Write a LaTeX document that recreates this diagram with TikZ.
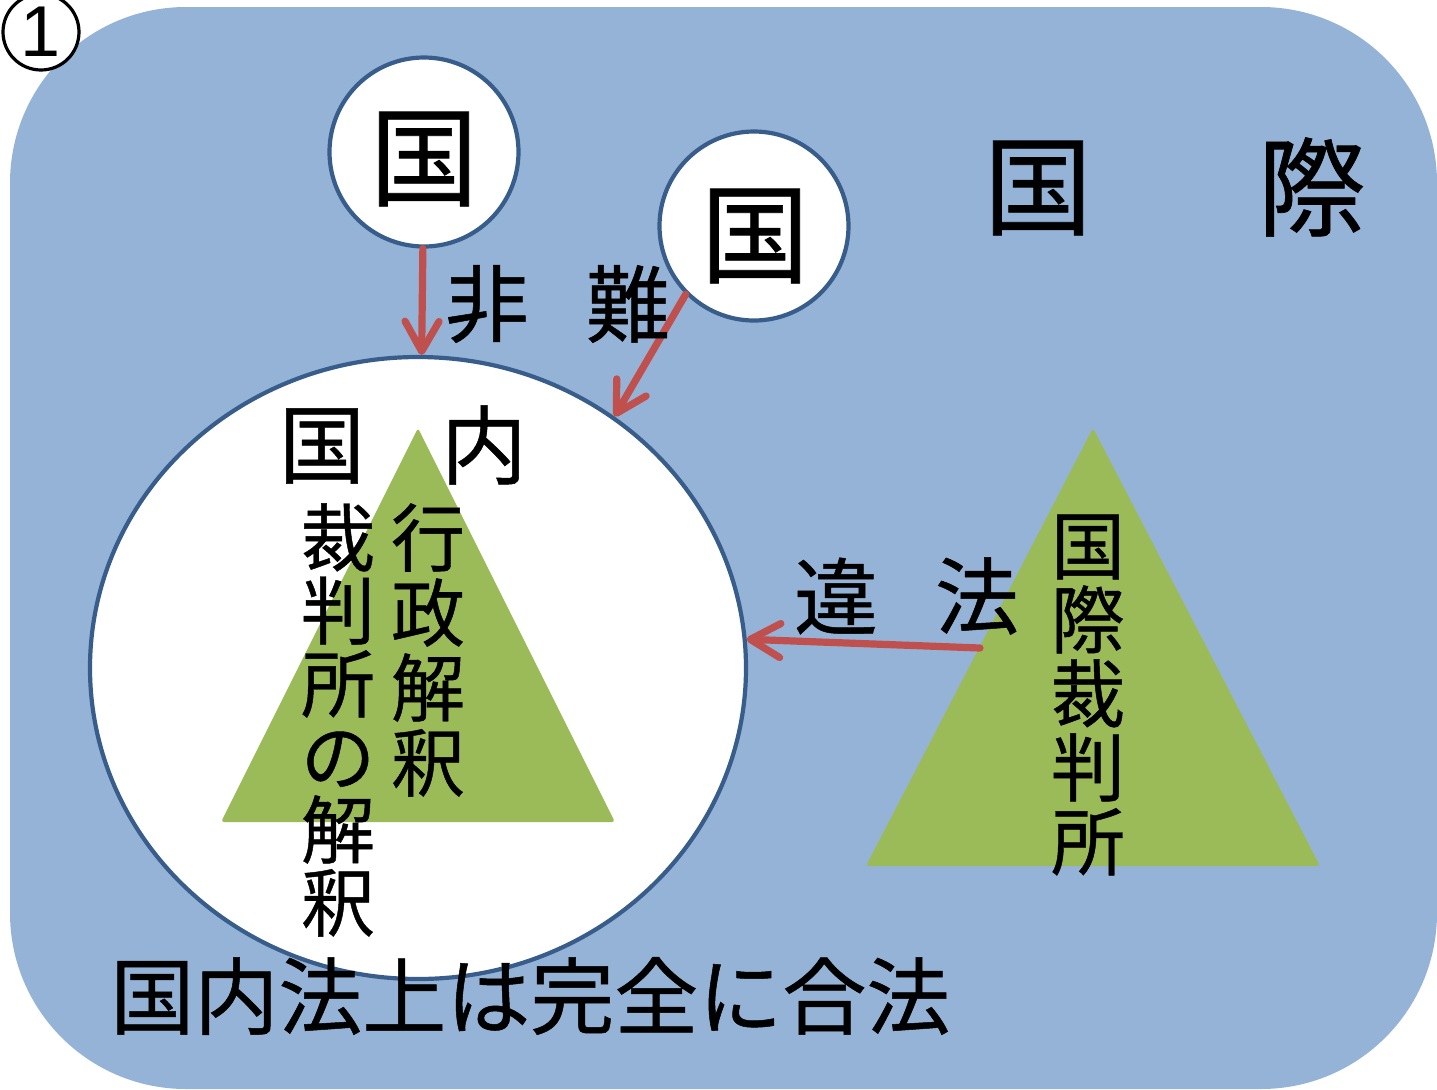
\documentclass[tikz,border=0pt]{standalone}
\usepackage{fontspec}
\newfontfamily\jp[FakeBold=0.6]{Noto Sans CJK JP}
\newfontfamily\lib{Liberation Sans}
\usetikzlibrary{shapes.geometric,arrows.meta}
\definecolor{bgblue}{HTML}{95B3D7}
\definecolor{edgeblue}{HTML}{385D8A}
\definecolor{tgreen}{HTML}{9BBB59}
\definecolor{ared}{HTML}{C0504D}
\tikzset{
  jpt/.style={inner sep=0pt, text=black},
  bubble/.style={circle, draw=edgeblue, line width=2.1pt, fill=white, minimum size=94.5pt, inner sep=0pt},
  redarrow/.style={draw=ared, line width=3.6pt, line cap=round,
    -{Straight Barb[length=15pt,width=17pt,line cap=round,line join=round]}},
  col/.style={jpt, align=center, font=\jp\fontsize{37}{36.5}\selectfont},
}
\begin{document}
\begin{tikzpicture}[x=0.5pt,y=-0.5pt]
\useasboundingbox (0,0) rectangle (1437,1089);
% background
\fill[bgblue, rounded corners=88pt] (10,7) rectangle (1437,1089);
% number
\node[circle, draw=black, line width=1.6pt, fill=white, minimum size=38pt, inner sep=0pt] (num) at (41,32) {};
\node[inner sep=0pt, font=\lib\fontsize{36}{36}\selectfont] (numtxt) at (41,32) {1};
% domestic ellipse
\node[ellipse, draw=edgeblue, line width=2.1pt, fill=white, minimum width=328pt, minimum height=311pt, inner sep=0pt] (E) at (418,668) {};
% triangles
\fill[tgreen, rounded corners=1.5pt] (418,428) -- (615,822) -- (221,822) -- cycle;
\fill[tgreen, rounded corners=1.5pt] (1093,428) -- (1320,866) -- (866,866) -- cycle;
% country bubbles
\node[bubble] (c1) at (424,152) {};
\node[bubble] (c2) at (754,226) {};
\node[jpt, font=\jp\fontsize{54}{54}\selectfont] (k1) at (424,159) {国};
\node[jpt, font=\jp\fontsize{54}{54}\selectfont] (k2) at (755,236) {国};
% arrows
\coordinate (a3) at (980,648);
\draw[redarrow] (c1) -- (E);
\draw[redarrow] (c2.225) -- (E.52);
\draw[redarrow] (a3) -- (E.5);
% labels
\node[jpt, font=\jp\fontsize{54}{54}\selectfont] (kk1) at (1038,188) {国};
\node[jpt, font=\jp\fontsize{54}{54}\selectfont] (kk2) at (1312,187) {際};
\node[jpt, font=\jp\fontsize{42}{42}\selectfont] (hi) at (487,304) {非};
\node[jpt, font=\jp\fontsize{42}{42}\selectfont] (nan) at (628,304) {難};
\node[jpt, font=\jp\fontsize{43}{43}\selectfont] (kn1) at (322,446) {国};
\node[jpt, font=\jp\fontsize{43}{43}\selectfont] (kn2) at (484,445) {内};
\node[jpt, font=\jp\fontsize{42}{42}\selectfont] (i1) at (836,596) {違};
\node[jpt, font=\jp\fontsize{42}{42}\selectfont] (i2) at (977,596) {法};
\node[col] (court) at (338,720) {裁\\判\\所\\の\\解\\釈};
\node[col, font=\jp\fontsize{37}{37.5}\selectfont] (admin) at (428,650) {行\\政\\解\\釈};
\node[col, font=\jp\fontsize{37}{37}\selectfont] (icj) at (1088,695) {国\\際\\裁\\判\\所};
\node[jpt, anchor=west, font=\jp\fontsize{42}{42}\selectfont] (bottom) at (110,996) {国内法上は完全に合法};
\end{tikzpicture}
\end{document}
